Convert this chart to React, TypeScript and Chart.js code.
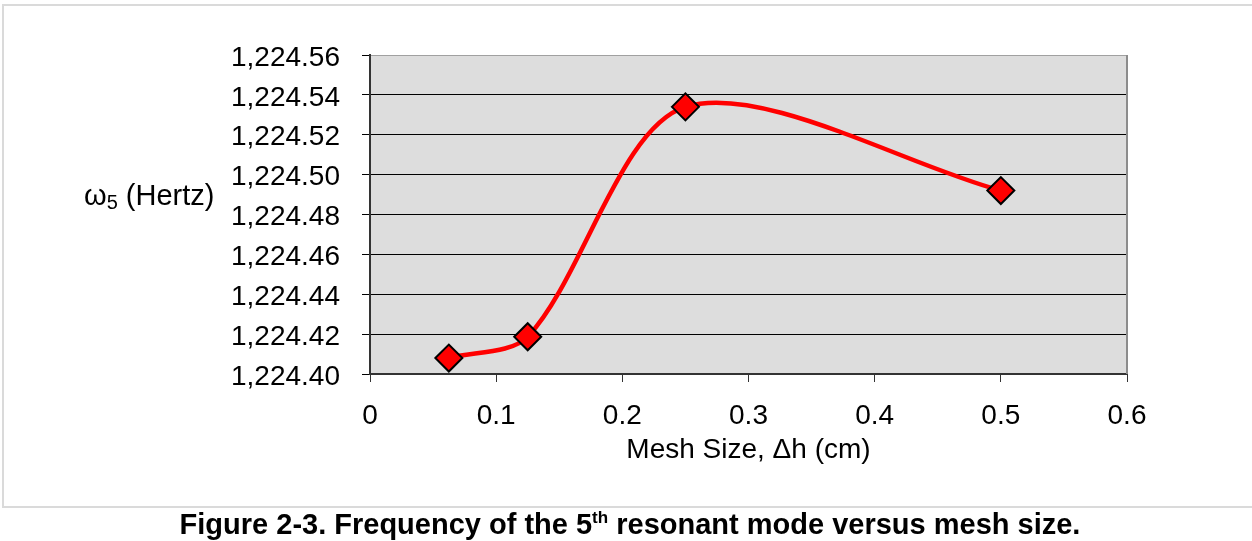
import React, { useEffect, useRef } from "react";
import { Chart, registerables } from "chart.js";

Chart.register(...registerables);

// Mesh size (cm) and computed 5th-mode frequency (Hz)
const meshSizes = [0.0625, 0.125, 0.25, 0.5];
const frequencies = [1224.408, 1224.4187, 1224.534, 1224.492];

// Axis ranges and ticks
const yMin = 1224.4;
const yMax = 1224.56;
const yStep = 0.02;
const xMin = 0;
const xMax = 0.6;
const xStep = 0.1;

const xTitle = "Mesh Size, \u0394h (cm)";
const yTitleSymbol = "\u03c9";
const yTitleSub = "5";
const yTitleRest = "(Hertz)";

const FONT = "'Liberation Sans', Arial, Helvetica, sans-serif";

function formatFreq(v: number): string {
  const s = Number(v).toFixed(2);
  const [int, dec] = s.split(".");
  return int.replace(/\B(?=(\d{3})+(?!\d))/g, ",") + "." + dec;
}

const plotBackground = {
  id: "plotBackground",
  beforeDraw(chart: any) {
    const { ctx, chartArea } = chart;
    ctx.save();
    ctx.fillStyle = "#dddddd";
    ctx.fillRect(chartArea.left, chartArea.top, chartArea.right - chartArea.left, chartArea.bottom - chartArea.top);
    ctx.restore();
  },
  beforeDatasetsDraw(chart: any) {
    const { ctx, chartArea } = chart;
    ctx.save();
    ctx.strokeStyle = "#8c8c8c";
    ctx.lineWidth = 2;
    ctx.beginPath();
    ctx.moveTo(chartArea.right, chartArea.top);
    ctx.lineTo(chartArea.right, chartArea.bottom);
    ctx.stroke();
    ctx.restore();
  },
};

// Horizontal y-axis title with a subscripted index
const yTitlePlugin = {
  id: "yTitle",
  afterDraw(chart: any) {
    const { ctx } = chart;
    ctx.save();
    ctx.fillStyle = "#000";
    ctx.textBaseline = "alphabetic";
    ctx.textAlign = "left";
    let x = 84;
    const base = 205;
    ctx.font = `29px ${FONT}`;
    ctx.fillText(yTitleSymbol, x, base);
    x += ctx.measureText(yTitleSymbol).width;
    ctx.font = `20px ${FONT}`;
    ctx.fillText(yTitleSub, x, base + 4);
    x += ctx.measureText(yTitleSub).width;
    ctx.font = `29px ${FONT}`;
    x += ctx.measureText(" ").width;
    ctx.fillText(yTitleRest, x, base);
    ctx.restore();
  },
};

export default function App() {
  const canvasRef = useRef<HTMLCanvasElement | null>(null);

  useEffect(() => {
    if (!canvasRef.current) return;
    const chart = new Chart(canvasRef.current, {
      type: "line",
      data: {
        datasets: [
          {
            data: meshSizes.map((x, i) => ({ x, y: frequencies[i] })),
            borderColor: "#ff0000",
            borderWidth: 4.5,
            tension: 0.3,
            pointStyle: "rectRot",
            pointRadius: 13.5,
            pointBackgroundColor: "#ff0000",
            pointBorderColor: "#000000",
            pointBorderWidth: 2,
          },
        ],
      },
      options: {
        responsive: false,
        animation: false,
        events: [],
        layout: { padding: { left: 0, top: 55, right: 125, bottom: 74 } },
        plugins: { legend: { display: false }, tooltip: { enabled: false } },
        scales: {
          x: {
            type: "linear",
            min: xMin,
            max: xMax,
            afterFit: (s: any) => {
              s.height = 93;
            },
            ticks: {
              stepSize: xStep,
              color: "#000",
              font: { family: FONT, size: 28 },
              padding: 17,
              maxRotation: 0,
              callback: (v: any) => (Number(v) === 0 ? "0" : Number(v).toFixed(1)),
            },
            grid: { drawOnChartArea: false, drawTicks: true, tickLength: 8, tickColor: "#333", tickWidth: 1 },
            border: { display: true, color: "#333", width: 2 },
            title: {
              display: true,
              text: xTitle,
              color: "#000",
              font: { family: FONT, size: 28 },
              padding: { top: 0, bottom: 0 },
            },
          },
          y: {
            type: "linear",
            min: yMin,
            max: yMax,
            afterFit: (s: any) => {
              s.width = 370;
            },
            ticks: {
              stepSize: yStep,
              color: "#000",
              font: { family: FONT, size: 28 },
              padding: 22,
              labelOffset: 3,
              callback: (v: any) => formatFreq(Number(v)),
            },
            grid: {
              color: (c: any) => (c.tick && Math.abs(c.tick.value - yMax) < 1e-6 ? "#a0a0a0" : "#000"),
              lineWidth: 1,
              drawTicks: true,
              tickLength: 8,
              tickColor: "#000",
            },
            border: { display: true, color: "#333", width: 2 },
          },
        },
      },
      plugins: [plotBackground, yTitlePlugin],
    });
    return () => chart.destroy();
  }, []);

  return (
    <div style={{ position: "fixed", left: 0, top: 0, width: 1252, height: 541, background: "#fff", overflow: "hidden" }}>
      <div
        style={{
          position: "absolute",
          left: 2,
          top: 4,
          width: 1400,
          height: 500,
          border: "2px solid #dadada",
        }}
      />
      <canvas ref={canvasRef} width={1252} height={541} style={{ position: "absolute", left: 0, top: 0 }} />
      <div
        style={{
          position: "absolute",
          left: 0,
          top: 508,
          width: 1260,
          textAlign: "center",
          fontFamily: FONT,
          fontWeight: "bold",
          fontSize: 29,
          color: "#000",
          lineHeight: "32px",
          whiteSpace: "nowrap",
        }}
      >
        Figure 2-3. Frequency of the 5<sup style={{ fontSize: 17, lineHeight: 0 }}>th</sup> resonant mode versus mesh size.
      </div>
    </div>
  );
}
